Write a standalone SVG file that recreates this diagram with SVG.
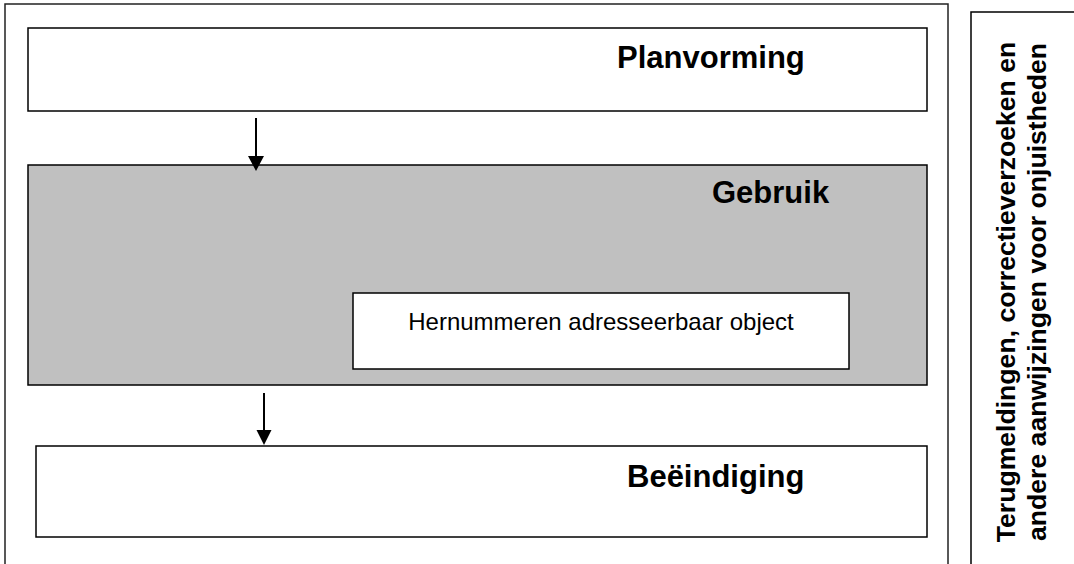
<svg xmlns="http://www.w3.org/2000/svg" width="1074" height="564" viewBox="0 0 1074 564">
<style>
.box{fill:#fff;stroke:#000;stroke-width:1.5}
.frame{fill:none;stroke:#222;stroke-width:1.5}
.big{font-family:"Liberation Sans",Arial,sans-serif;font-weight:bold;font-size:31px;fill:#000}
.small{font-family:"Liberation Sans",Arial,sans-serif;font-size:24px;fill:#000}
.side{font-family:"Liberation Sans",Arial,sans-serif;font-weight:bold;font-size:26.6px;fill:#000}
.conn{stroke:#000;stroke-width:2;fill:none}
</style>
<defs>
<marker id="ah" markerWidth="8" markerHeight="8" refX="8" refY="4" orient="auto" markerUnits="userSpaceOnUse" viewBox="0 0 8 8">
<path d="M0,0 L8,4 L0,8 Z" fill="#000"/>
</marker>
</defs>
<rect width="1074" height="564" fill="#fff"/>
<g id="frame">
<rect class="frame" x="5" y="4" width="943" height="580"/>
</g>
<g id="planvorming">
<rect class="box" x="28" y="28" width="899" height="83"/>
<text class="big" x="617" y="68">Planvorming</text>
</g>
<g id="gebruik">
<rect class="box" x="28" y="165" width="899" height="220" style="fill:#c0c0c0"/>
<text class="big" x="712" y="203">Gebruik</text>
</g>
<g id="hernummeren">
<rect class="box" x="353" y="293" width="496" height="76"/>
<text class="small" x="601" y="330" text-anchor="middle">Hernummeren adresseerbaar object</text>
</g>
<g id="beeindiging">
<rect class="box" x="36" y="446" width="891" height="91"/>
<text class="big" x="627" y="487">Beëindiging</text>
</g>
<g id="terugmeldingen">
<rect class="box" x="971" y="12" width="120" height="580"/>
<text class="side" transform="translate(1015,292) rotate(-90)" text-anchor="middle">Terugmeldingen, correctieverzoeken en</text>
<text class="side" transform="translate(1046,292) rotate(-90)" text-anchor="middle">andere aanwijzingen voor onjuistheden</text>
</g>
<g id="connectors">
<line class="conn" x1="256" y1="118" x2="256" y2="158"/>
<path d="M248,156 L264,156 L256,171 Z" fill="#000"/>
<line class="conn" x1="264" y1="393" x2="264" y2="432"/>
<path d="M256.5,430 L271.5,430 L264,445 Z" fill="#000"/>
</g>
</svg>
